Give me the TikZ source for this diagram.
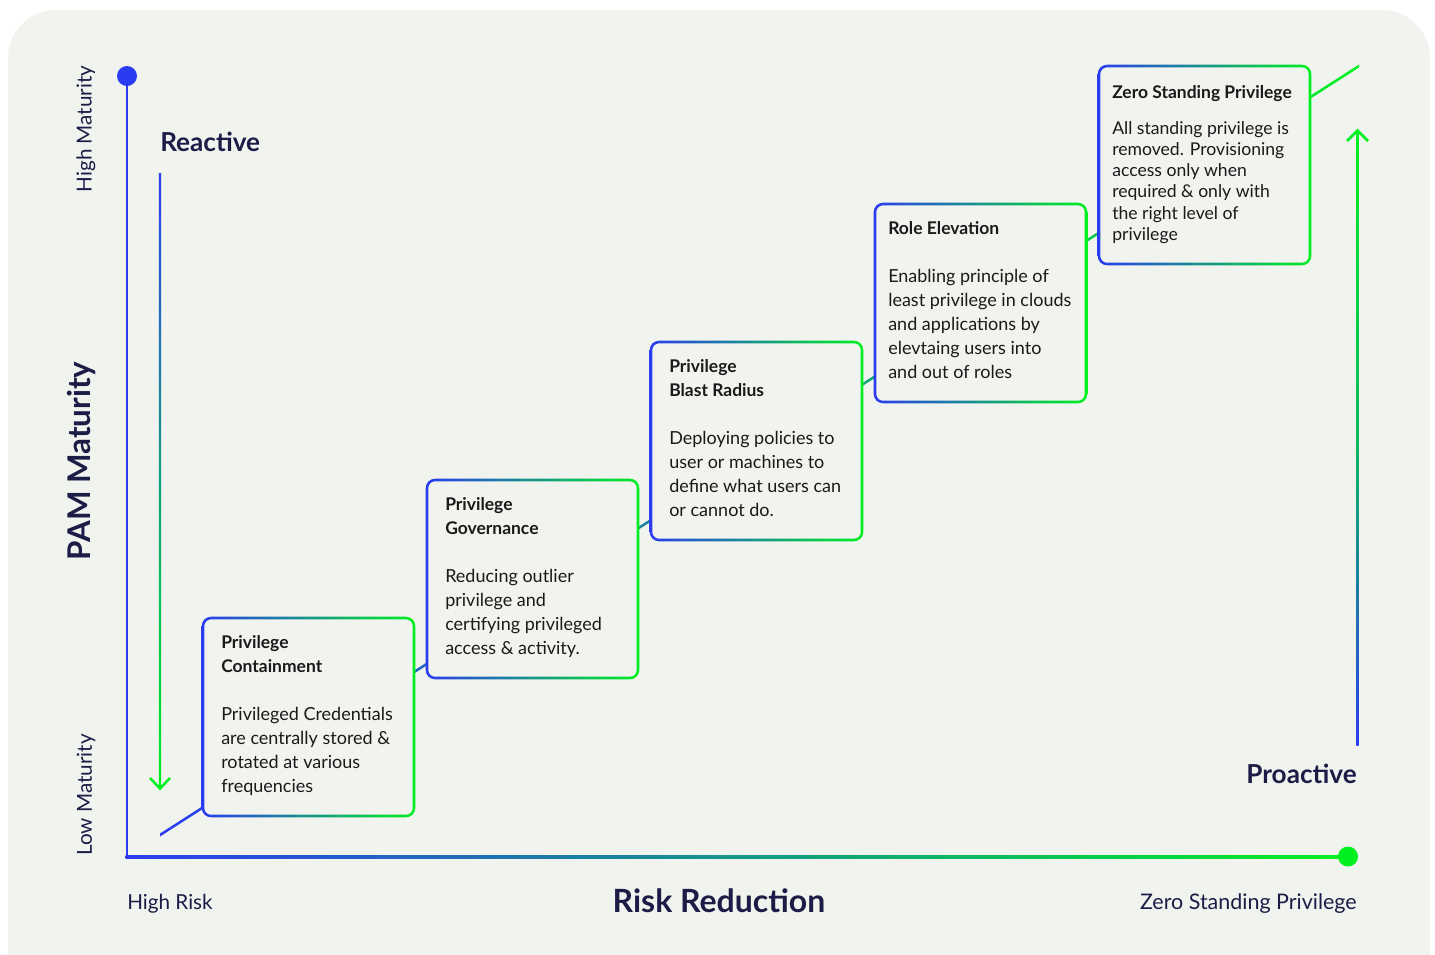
\documentclass[tikz,border=0pt]{standalone}
\usepackage{fontspec}
\setmainfont{Lato}
\definecolor{bgc}{HTML}{F1F3EF}
\definecolor{gblue}{HTML}{2B3CF0}
\definecolor{ggreen}{HTML}{00F020}
\definecolor{navy}{HTML}{1B1D47}
\definecolor{ink}{HTML}{1A1A1A}
\newcommand{\gradframe}[4]{%
  \fill[bgc, rounded corners=6pt] (#1,#2) rectangle (#3,#4);
  \shade[left color=gblue, right color=ggreen, even odd rule]
    [rounded corners=7pt] (#1-1.3,#2-1.3) rectangle (#3+1.3,#4+1.3)
    [rounded corners=5pt] (#1+1.3,#2+1.3) rectangle (#3-1.3,#4-1.3);
}
\begin{document}
\begin{tikzpicture}[x=0.75pt,y=-0.75pt,
  boxtxt/.style={anchor=north west, inner sep=0pt, align=left, text=ink,
                 font=\fontsize{13.5pt}{18pt}\selectfont},
  smalltxt/.style={anchor=north west, inner sep=0pt, align=left, text=ink,
                 font=\fontsize{13.2pt}{15.9pt}\selectfont},
  axlabel/.style={inner sep=0pt, text=navy, font=\fontsize{15.5pt}{18pt}\selectfont},
  bigbold/.style={inner sep=0pt, text=navy, font=\fontsize{19.6pt}{22pt}\selectfont\bfseries},
  dot/.style={circle, inner sep=0pt, minimum size=15pt},
  head/.style={ggreen, line width=1.9pt}
]
\useasboundingbox (0,0) rectangle (1435,954);
\clip (0,0) rectangle (1435,954);
\fill[white] (0,0) rectangle (1435,954);
\fill[bgc, rounded corners=36pt] (8,10) rectangle (1430,1002);

% axes
\node[dot, fill=gblue] (topdot) at (127,76) {};
\coordinate (origin) at (127,856.5);
\node[dot, fill=ggreen] (enddot) at (1348,856.5) {};
\draw[gblue, line width=2.2pt] (topdot.center) -- (origin);
\shade[left color=gblue, right color=ggreen] (125.5,855) rectangle (1348,858);

% reactive arrow
\coordinate (rtop) at (160,173);
\coordinate (rbot) at (160,788.5);
\shade[top color=gblue, bottom color=ggreen, middle color=gblue!45!ggreen] (158.8,173) rectangle (161.2,788);
\draw[head] (150,778) -- (rbot) -- (170,778);

% proactive arrow
\coordinate (ptop) at (1357.5,130.5);
\coordinate (pbot) at (1357.5,745);
\shade[top color=ggreen, bottom color=gblue, middle color=ggreen!70!gblue] (1356.3,131) rectangle (1358.7,745);
\draw[head] (1347,141) -- (ptop) -- (1368,141);

% diagonal staircase line
\coordinate (dstart) at (160,835);
\coordinate (dend) at (1359,66);
\shade[left color=gblue, right color=ggreen] (160,833.5) -- (1359,64.5) -- (1359,67.5) -- (160,836.5) -- cycle;

% boxes
\gradframe{203}{618}{414}{816}
\gradframe{427}{480}{638}{678}
\gradframe{651}{342}{862}{540}
\gradframe{875}{204}{1086}{402}
\gradframe{1099}{66}{1310}{264}

\node[boxtxt] (t1) at (221,635) {\textbf{\fontsize{13.1pt}{18pt}\selectfont Privilege}\\\textbf{\fontsize{13.1pt}{18pt}\selectfont Containment}\\[18pt]Privileged Credentials\\are centrally stored \&\\rotated at various\\frequencies};
\node[boxtxt] (t2) at (445,497) {\textbf{\fontsize{13.1pt}{18pt}\selectfont Privilege}\\\textbf{\fontsize{13.1pt}{18pt}\selectfont Governance}\\[18pt]Reducing outlier\\privilege and\\certifying privileged\\access \& activity.};
\node[boxtxt] (t3) at (669,359) {\textbf{\fontsize{13.1pt}{18pt}\selectfont Privilege}\\\textbf{\fontsize{13.1pt}{18pt}\selectfont Blast Radius}\\[18pt]Deploying policies to\\user or machines to\\define what users can\\or cannot do.};
\node[boxtxt] (t4) at (888,221) {\textbf{\fontsize{13.1pt}{18pt}\selectfont Role Elevation}\\[18pt]Enabling principle of\\least privilege in clouds\\and applications by\\elevtaing users into\\and out of roles};
\node[boxtxt, font=\fontsize{13.1pt}{18pt}\selectfont\bfseries] (t5h) at (1112,85) {Zero Standing Privilege};
\node[smalltxt] (t5) at (1112,121) {All standing privilege is\\removed. Provisioning\\access only when\\required \& only with\\the right level of\\privilege};

% labels
\node[axlabel, rotate=90] (hm) at (86,129) {High Maturity};
\node[axlabel, rotate=90] (lm) at (86,795) {Low Maturity};
\node[bigbold, rotate=90, font=\fontsize{23.5pt}{28pt}\selectfont\bfseries] (pam) at (82,461) {PAM Maturity};
\node[bigbold, anchor=base west] (rea) at (160,151) {Reactive};
\node[bigbold, anchor=base east] (pro) at (1357,783) {Proactive};
\node[axlabel, anchor=base west] (hr) at (127,909) {High Risk};
\node[bigbold, anchor=base, font=\fontsize{24pt}{26pt}\selectfont\bfseries] (rr) at (719,912) {Risk Reduction};
\node[axlabel, anchor=base east, font=\fontsize{16.1pt}{18pt}\selectfont] (zsp) at (1357,909) {Zero Standing Privilege};
\end{tikzpicture}
\end{document}
